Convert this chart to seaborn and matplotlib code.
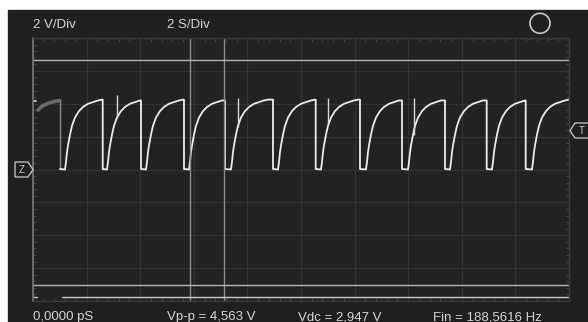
import numpy as np
import pandas as pd
import matplotlib
matplotlib.use("Agg")
import matplotlib.pyplot as plt
from matplotlib.patches import Rectangle, Polygon, Circle
import seaborn as sns

# --- data (time in s, voltage in V) ---
fall_times = [1.007, 2.601, 4.030, 5.634, 7.164, 8.955, 10.549, 12.201,
              13.769, 15.373, 16.929, 18.384]
rise_starts = [1.194, 2.761, 4.216, 5.821, 7.388, 9.142, 10.746, 12.425,
               13.993, 15.560, 17.127, 18.619]
# charging curve after each rise start
curve_dt = [0.0, 0.04, 0.07, 0.11, 0.19, 0.26, 0.37, 0.52, 0.67, 0.86, 1.04, 1.23, 1.38]
curve_v = [0.0, 0.5, 1.0, 1.45, 2.15, 2.65, 3.15, 3.55, 3.8, 4.0, 4.1, 4.2, 4.25]
low_level = 0.03
# older (gray) trace at the left edge
ghost_t = [0.187, 0.336, 0.522, 0.746, 1.007]
ghost_v = [3.62, 3.85, 4.0, 4.12, 4.2]
# glitch spikes
spike_t = [3.123, 7.638, 10.996, 14.228]
spike_lo = [3.14, 2.59, 2.71, 2.10]
spike_hi = [4.53, 4.37, 4.37, 4.37]
# cursors
cursor_t = [5.858, 7.138]
cursor_v = [6.69, -7.02]
ref_line_v = -7.75
t_end = 20.0

header = ["2 V/Div", "2 S/Div"]
readouts = ["0,0000 pS", "Vp-p = 4,563 V", "Vdc = 2,947 V", "Fin = 188,5616 Hz"]

# build the trace from the read-off points
tt, vv = [], []
for i, rs in enumerate(rise_starts):
    nxt = fall_times[i + 1] if i + 1 < len(fall_times) else t_end
    if i == 0:
        tt += [fall_times[0]]
        vv += [low_level]
    for dt, v in zip(curve_dt, curve_v):
        if rs + dt < nxt:
            tt.append(rs + dt)
            vv.append(v)
    tt.append(nxt)
    vv.append(vv[-1])
    if nxt < t_end:
        tt += [nxt, nxt + 0.01]
        vv += [low_level, low_level]
trace = pd.DataFrame({"t": tt, "v": vv})
ghost = pd.DataFrame({"t": ghost_t, "v": ghost_v})

sns.set_theme(style="dark", rc={"axes.facecolor": "#222222",
                                "figure.facecolor": "white",
                                "grid.color": "#353535"})
plt.rcParams["font.family"] = ["Liberation Sans", "DejaVu Sans"]

W, H = 588, 322
fig = plt.figure(figsize=(W / 100, H / 100), dpi=100)
fig.patches.append(Rectangle((8 / W, 0), 1, (H - 10) / H, transform=fig.transFigure,
                             color="#1f1f1f", zorder=-10))
ax = fig.add_axes([33 / W, (H - 301) / H, 536 / W, 263 / H])

sns.lineplot(data=ghost, x="t", y="v", ax=ax, color="#6a6a6a", lw=2.6,
             estimator=None, sort=False)
ax.vlines([ghost_t[-1]], low_level, ghost_v[-1], color="#8a8a8a", lw=1.0)
sns.lineplot(data=trace, x="t", y="v", ax=ax, color="#ececec", lw=1.3,
             estimator=None, sort=False)
ax.vlines(spike_t, spike_lo, spike_hi, color="#d8d8d8", lw=1.0)
ax.plot([0, 0.12], [4.19, 4.19], color="#e0e0e0", lw=1.2)

for t in cursor_t:
    ax.axvline(t, color="#8c8c8c", lw=1.0)
for v in cursor_v:
    ax.axhline(v, color="#b4b4b4", lw=1.0)
ax.plot([1.08, t_end], [ref_line_v, ref_line_v], color="#c8c8c8", lw=1.0)
ax.plot([0, 0.15], [ref_line_v, ref_line_v], color="#c8c8c8", lw=1.0)

ax.set_xlim(0, t_end)
ax.set_ylim(-8, 8)
ax.set_xticks(np.arange(0, 20.1, 2))
ax.set_yticks(np.arange(-8, 8.1, 2))
ax.set_xticks(np.arange(0, 20.1, 0.4), minor=True)
ax.set_yticks(np.arange(-8, 8.1, 0.4), minor=True)
ax.grid(True, which="major", color="#333333", lw=0.9)
ax.tick_params(which="both", direction="in", labelleft=False, labelbottom=False,
               top=True, right=True, left=True, bottom=True, colors="#444444")
ax.tick_params(which="major", length=0)
ax.tick_params(which="minor", length=2.5, width=0.8)
ax.set_xlabel("")
ax.set_ylabel("")
for s in ax.spines.values():
    s.set_color("#3a3a3a")
    s.set_linewidth(1.0)
ax.spines["left"].set_color("#707070")
ax.spines["left"].set_linewidth(1.3)

def fx(px):
    return px / W

def fy(py):
    return 1 - py / H

txt = dict(color="#d6d6d6", fontsize=9.5, va="baseline", ha="left")
fig.text(fx(33), fy(28), header[0], **txt)
fig.text(fx(167), fy(28), header[1], **txt)
for x, s in zip([33, 167, 298, 433], readouts):
    fig.text(fx(x), fy(320), s, **txt)

# status circle, in pixel coords so it stays round
fig.patches.append(Circle((540, H - 23.3), 10, transform=None, fill=False,
                          ec="#c8c8c8", lw=1.2))

z_pts = [(15, 162), (28, 162), (33, 169.6), (28, 177), (15, 177)]
fig.patches.append(Polygon([(fx(a), fy(b)) for a, b in z_pts], closed=True,
                           transform=fig.transFigure, fc="#1f1f1f", ec="#bdbdbd", lw=1.0))
fig.text(fx(21.5), fy(169.6), "Z", color="#d0d0d0", fontsize=7, ha="center", va="center")

t_pts = [(570, 130.7), (575, 123), (592, 123), (592, 138), (575, 138)]
fig.patches.append(Polygon([(fx(a), fy(b)) for a, b in t_pts], closed=True,
                           transform=fig.transFigure, fc="#1f1f1f", ec="#bdbdbd", lw=1.0))
fig.text(fx(581.5), fy(130.7), "T", color="#d0d0d0", fontsize=7, ha="center", va="center")

fig.savefig("out.png", dpi=100, facecolor="white")
